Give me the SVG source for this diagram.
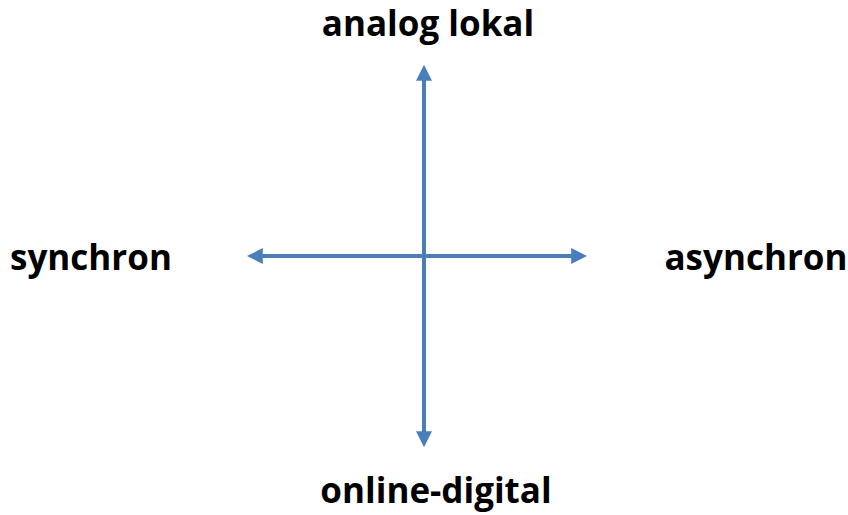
<svg xmlns="http://www.w3.org/2000/svg" width="848" height="515" viewBox="0 0 848 515">
<style>
.lbl{font-family:"Open Sans","Liberation Sans",sans-serif;font-weight:bold;font-size:35px;fill:#000}
.ax{stroke:#4A7EBB;stroke-width:4;fill:none}
</style>
<defs>
<marker id="ah" markerWidth="4" markerHeight="4" refX="2.2" refY="2" orient="auto-start-reverse" markerUnits="strokeWidth">
<path d="M0,0 L4,2 L0,4 Z" fill="#4A7EBB"/>
</marker>
</defs>
<rect width="848" height="515" fill="#fff"/>
<g id="connectors">
<line class="ax" x1="424" y1="72" x2="424" y2="440" marker-start="url(#ah)" marker-end="url(#ah)"/>
<line class="ax" x1="254" y1="256" x2="580" y2="256" marker-start="url(#ah)" marker-end="url(#ah)"/>
</g>
<g id="top"><text class="lbl" x="428" y="36" text-anchor="middle">analog lokal</text></g>
<g id="bottom"><text class="lbl" x="436" y="503" text-anchor="middle">online-digital</text></g>
<g id="left"><text class="lbl" x="91" y="270" text-anchor="middle">synchron</text></g>
<g id="right"><text class="lbl" x="756" y="270" text-anchor="middle">asynchron</text></g>
</svg>
